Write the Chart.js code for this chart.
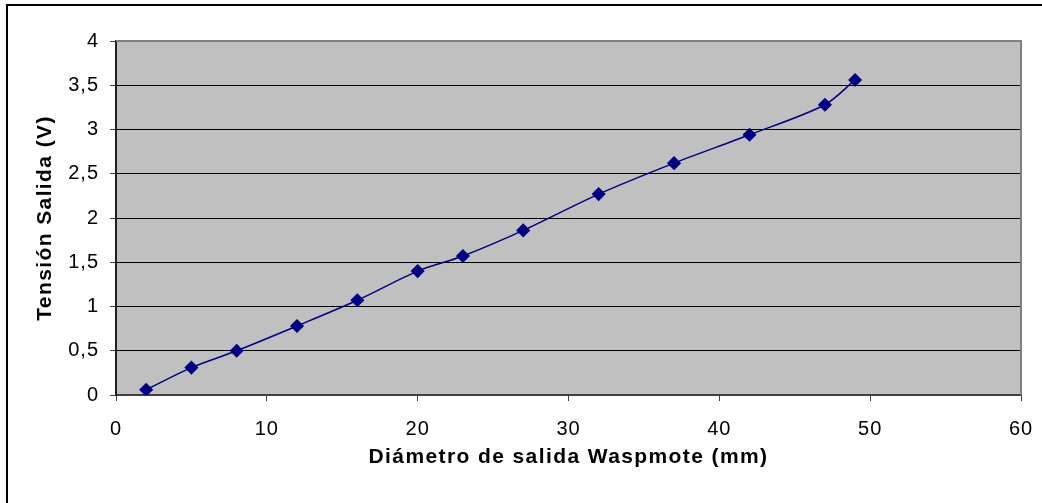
<!DOCTYPE html>
<html>
<head>
<meta charset="utf-8">
<script src="https://cdn.jsdelivr.net/npm/chart.js@4/dist/chart.umd.min.js"></script>
<style>
  html, body { margin: 0; padding: 0; background: #fff; }
  #wrap { position: relative; width: 1042px; height: 503px; }
</style>
</head>
<body>
<div id="wrap"><canvas id="grafico" width="1042" height="503"></canvas></div>
<script>
// datos
const diametro = [2, 5, 8, 12, 16, 20, 23, 27, 32, 37, 42, 47, 49];
const tension = [0.06, 0.31, 0.50, 0.78, 1.07, 1.40, 1.57, 1.86, 2.27, 2.62, 2.94, 3.28, 3.56];

const tituloX = 'Diámetro de salida Waspmote (mm)';
const tituloY = 'Tensión Salida (V)';

const puntos = diametro.map((d, i) => ({ x: d, y: tension[i] }));

// fondo gris del area, marco y espaciado del texto (estilo Excel)
const fondo = {
    id: 'fondo',
    afterLayout(chart) {
        Object.values(chart.scales).forEach(scale => {
            if (scale._espaciado) return;
            scale._espaciado = true;
            const orig = scale.drawTitle;
            scale.drawTitle = function () {
                chart.ctx.letterSpacing = '1.4px';
                orig.call(this);
                chart.ctx.letterSpacing = '1px';
            };
        });
    },
    beforeDraw(chart) {
        const { ctx, chartArea: a } = chart;
        ctx.letterSpacing = '1px';
        ctx.save();
        ctx.fillStyle = '#C0C0C0';
        ctx.fillRect(a.left, a.top, a.right - a.left, a.bottom - a.top);
        ctx.restore();
    },
    afterDatasetsDraw(chart) {
        const { ctx, chartArea: a } = chart;
        ctx.save();
        ctx.strokeStyle = '#808080';
        ctx.lineWidth = 2;
        ctx.beginPath();
        ctx.moveTo(a.left, a.top);
        ctx.lineTo(a.right, a.top);
        ctx.lineTo(a.right, a.bottom);
        ctx.stroke();
        ctx.restore();
    },
    afterDraw(chart) {
        const ctx = chart.ctx;
        ctx.save();
        ctx.fillStyle = '#000';
        ctx.fillRect(6, 4, 1036, 2);
        ctx.fillRect(6, 4, 2, 499);
        ctx.restore();
    }
};

Chart.defaults.font.family = '"Liberation Sans", Arial, sans-serif';
Chart.defaults.color = '#000';

new Chart(document.getElementById('grafico'), {
    type: 'scatter',
    data: {
        datasets: [{
            label: tituloY,
            data: puntos,
            showLine: true,
            tension: 0.3,
            borderColor: '#000080',
            borderWidth: 1.5,
            backgroundColor: '#000080',
            pointStyle: 'rectRot',
            pointRadius: 6,
            pointHoverRadius: 6
        }]
    },
    options: {
        responsive: false,
        animation: false,
        layout: { padding: { left: 0, top: 41, right: 21, bottom: 0 } },
        plugins: {
            legend: { display: false },
            tooltip: { enabled: false }
        },
        scales: {
            x: {
                type: 'linear',
                min: 0,
                max: 60,
                ticks: { stepSize: 10, padding: 16, font: { size: 20 } },
                grid: { drawOnChartArea: false, tickLength: 6, tickColor: '#404040', tickWidth: 1 },
                border: { color: '#404040', width: 2 },
                title: {
                    display: true,
                    text: tituloX,
                    font: { size: 21, weight: 'bold' },
                    padding: { top: 0, bottom: 33 }
                },
                afterFit(scale) {
                    scale.height = 108;
                    scale.paddingLeft = 0;
                    scale.paddingRight = 0;
                }
            },
            y: {
                min: 0,
                max: 4,
                ticks: {
                    stepSize: 0.5,
                    padding: 11,
                    font: { size: 20 },
                    callback: v => String(v).replace('.', ',')
                },
                grid: { color: '#000', lineWidth: 1, tickLength: 6, tickColor: '#404040' },
                border: { color: '#202020', width: 2 },
                title: {
                    display: true,
                    text: tituloY,
                    font: { size: 21, weight: 'bold' },
                    padding: { top: 33, bottom: 0 }
                },
                afterFit(scale) {
                    scale.width = 116;
                    scale.paddingTop = 0;
                    scale.paddingBottom = 0;
                }
            }
        }
    },
    plugins: [fondo]
});
</script>
</body>
</html>
